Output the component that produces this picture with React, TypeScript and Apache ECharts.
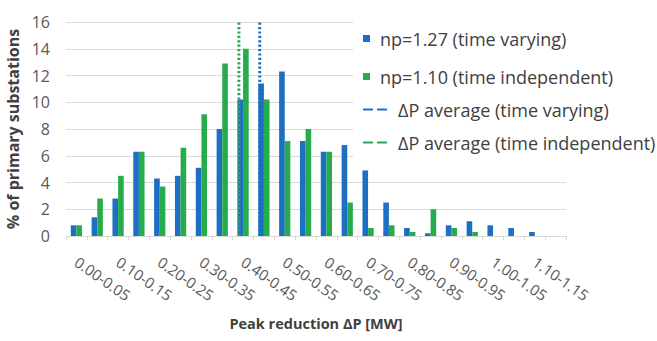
import React, { useEffect, useRef } from "react";
import * as echarts from "echarts";

const categories = [
  "0.00-0.05", "0.05-0.10", "0.10-0.15", "0.15-0.20", "0.20-0.25", "0.25-0.30",
  "0.30-0.35", "0.35-0.40", "0.40-0.45", "0.45-0.50", "0.50-0.55", "0.55-0.60",
  "0.60-0.65", "0.65-0.70", "0.70-0.75", "0.75-0.80", "0.80-0.85", "0.85-0.90",
  "0.90-0.95", "0.95-1.00", "1.00-1.05", "1.05-1.10", "1.10-1.15", "1.15-1.20",
];
const timeVarying = [0.8, 1.4, 2.8, 6.3, 4.3, 4.5, 5.1, 8.0, 10.2, 11.4, 12.3, 7.1, 6.3, 6.8, 4.9, 2.5, 0.6, 0.2, 0.8, 1.1, 0.8, 0.6, 0.3, 0];
const timeIndependent = [0.8, 2.8, 4.5, 6.3, 3.7, 6.6, 9.1, 12.9, 14.0, 10.2, 7.1, 8.0, 6.3, 2.5, 0.6, 0.8, 0.3, 2.0, 0.6, 0.3, 0, 0, 0, 0];
const avgTimeVarying = 0.465; // MW
const avgTimeIndependent = 0.415; // MW
const yTicks = { min: 0, max: 16, interval: 2 };

const BLUE = "#1c6fc3";
const GREEN = "#27ac4c";
const FONT = "Open Sans";

const names = {
  b: "np=1.27 (time varying)",
  g: "np=1.10 (time independent)",
  lb: "\u0394P average (time varying)",
  lg: "\u0394P average (time independent)",
};

export default function App() {
  const ref = useRef<HTMLDivElement>(null);
  useEffect(() => {
    const chart = echarts.init(ref.current!, null, { renderer: "svg" });
    const dash = "path://M0 0H10V2H0Z M14 0H24V2H14Z";
    chart.setOption({
      animation: false,
      textStyle: { fontFamily: FONT },
      grid: { left: 66, right: 91, top: 22, bottom: 105, outerBoundsMode: "none", containLabel: false },
      legend: [
        {
          data: [{ name: names.b, icon: "rect" }, { name: names.g, icon: "rect" }],
          orient: "vertical",
          left: 363,
          top: 28,
          padding: 0,
          itemWidth: 7,
          itemHeight: 7,
          itemGap: 17,
          textStyle: { fontSize: 18, color: "#404040", lineHeight: 21, padding: [0, 0, 0, 5], fontFamily: FONT },
        },
        {
          data: [{ name: names.lb, icon: dash }, { name: names.lg, icon: dash }],
          orient: "vertical",
          left: 363,
          top: 99,
          padding: 0,
          itemWidth: 24,
          itemHeight: 2,
          itemGap: 12,
          textStyle: { fontSize: 18, color: "#404040", lineHeight: 21, padding: [0, 0, 0, 6], fontFamily: FONT },
        },
      ],
      graphic: [
        { type: "rect", left: 353, top: 12, shape: { width: 304, height: 153 }, style: { fill: "#ffffff" }, z: 1, silent: true },
      ],
      xAxis: [
        {
          type: "category",
          data: categories,
          name: "Peak reduction \u0394P [MW]",
          nameLocation: "middle",
          nameGap: 80,
          nameTextStyle: { fontSize: 14.5, fontWeight: "bold", color: "#404040", fontFamily: FONT },
          axisLine: { show: true, lineStyle: { color: "#d9d9d9", width: 1 } },
          axisTick: { show: true, interval: 0, length: 4, lineStyle: { color: "#d9d9d9" } },
          axisLabel: { interval: 1, rotate: -35, margin: 24, fontSize: 15, color: "#595959", fontFamily: FONT },
          splitLine: { show: false },
        },
        { type: "value", min: 0, max: 1.2, show: false },
      ],
      yAxis: {
        type: "value",
        ...yTicks,
        name: "% of primary substations",
        nameLocation: "middle",
        nameGap: 44,
        nameTextStyle: { fontSize: 16, fontWeight: "bold", color: "#404040", fontFamily: FONT },
        axisLine: { show: false },
        axisTick: { show: false },
        axisLabel: { fontSize: 16, color: "#595959", margin: 16, fontFamily: FONT },
        splitLine: { lineStyle: { color: "#d9d9d9", width: 1 } },
      },
      series: [
        {
          name: names.b,
          type: "bar",
          data: timeVarying,
          barWidth: "27%",
          barGap: "0%",
          itemStyle: { color: BLUE },
          z: 2,
        },
        {
          name: names.g,
          type: "bar",
          data: timeIndependent,
          barWidth: "27%",
          barGap: "0%",
          itemStyle: { color: GREEN },
          z: 2,
        },
        {
          name: names.lb,
          type: "line",
          xAxisIndex: 1,
          data: [[avgTimeVarying, yTicks.min], [avgTimeVarying, yTicks.max]],
          symbol: "none",
          color: BLUE,
          itemStyle: { color: BLUE },
          lineStyle: { color: BLUE, width: 3, type: [2.2, 2.2] },
          z: 5,
        },
        {
          name: names.lg,
          type: "line",
          xAxisIndex: 1,
          data: [[avgTimeIndependent, yTicks.min], [avgTimeIndependent, yTicks.max]],
          symbol: "none",
          color: GREEN,
          itemStyle: { color: GREEN },
          lineStyle: { color: GREEN, width: 3, type: [2.2, 2.2] },
          z: 5,
        },
      ],
    });
    return () => chart.dispose();
  }, []);
  return <div ref={ref} style={{ position: "fixed", left: 0, top: 0, width: 657, height: 341, background: "#fff" }} />;
}
